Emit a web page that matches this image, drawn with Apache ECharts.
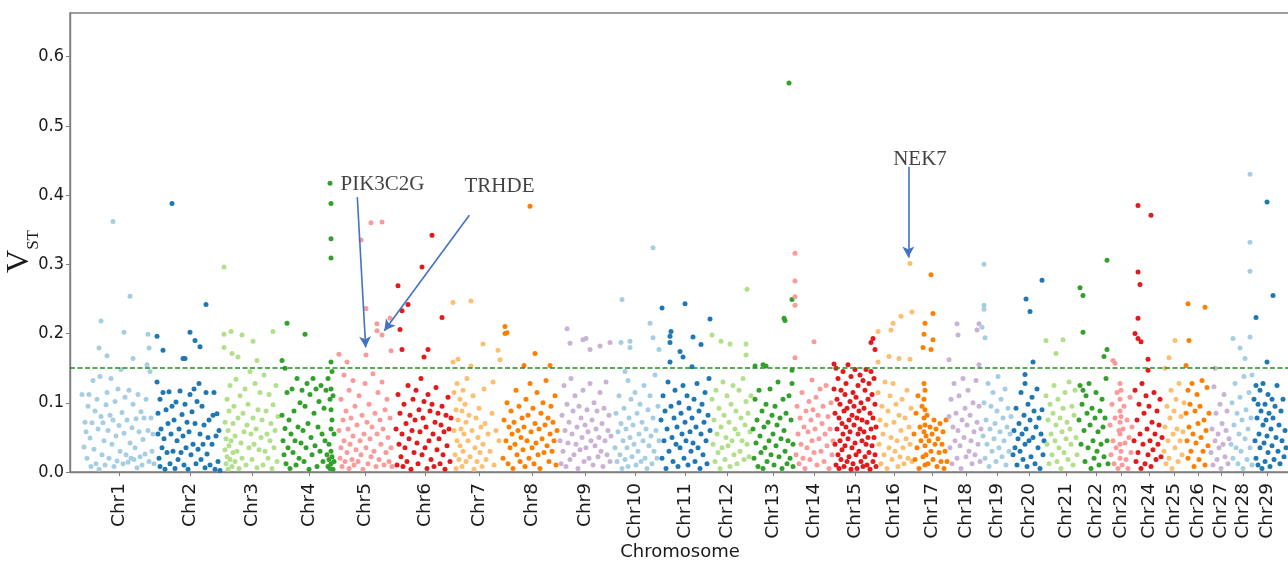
<!DOCTYPE html>
<html>
<head>
<meta charset="utf-8">
<script src="https://cdn.jsdelivr.net/npm/echarts@6/dist/echarts.min.js"></script>
<style>
html,body{margin:0;padding:0;background:#fff;}
#chart{width:1288px;height:562px;}
</style>
</head>
<body>
<div id="chart"></div>
<script>
// ---------- DATA ----------
const chrLabels = ['Chr1','Chr2','Chr3','Chr4','Chr5','Chr6','Chr7','Chr8','Chr9','Chr10','Chr11','Chr12','Chr13','Chr14','Chr15','Chr16','Chr17','Chr18','Chr19','Chr20','Chr21','Chr22','Chr23','Chr24','Chr25','Chr26','Chr27','Chr28','Chr29'];
const chrTicks = [119.5,190.5,252,309.5,365.5,425,479,532,585.5,635.5,685.5,727,773,814,855,894,932,966,997,1029,1066,1096,1121.5,1149,1174,1198,1221.5,1243,1267];
const yTicks = [0, 0.1, 0.2, 0.3, 0.4, 0.5, 0.6];
const threshold = 0.154;

const chr1 = [[82,0.112],[84,0.036],[85,0.072],[86,0.058],[87,0.02],[88,0.095],[89,0.112],[90,0.049],[91,0.008],[92,0.071],[93,0.132],[94,0.033],[95,0.088],[96,0.012],[97,0.105],[98,0.062],[99,0.179],[99,0.004],[100,0.138],[101,0.218],[101,0.08],[102,0.025],[103,0.071],[104,0.045],[105,0.01],[106,0.097],[107,0.168],[107,0.115],[108,0.06],[109,0.02],[110,0.082],[111,0.135],[112,0.04],[113,0.362],[113,0.075],[114,0.008],[115,0.102],[116,0.052],[117,0.016],[118,0.12],[119,0.067],[120,0.03],[121,0.148],[122,0.086],[123,0.012],[124,0.202],[124,0.056],[125,0.108],[126,0.025],[127,0.075],[128,0.014],[129,0.118],[130,0.254],[130,0.042],[131,0.02],[132,0.064],[133,0.164],[133,0.098],[134,0.018],[135,0.035],[136,0.077],[137,0.006],[138,0.112],[139,0.058],[140,0.022],[141,0.087],[142,0.01],[143,0.047],[144,0.078],[145,0.026],[146,0.105],[147,0.155],[148,0.199],[148,0.06],[149,0.179],[149,0.015],[150,0.145],[151,0.078],[152,0.03],[153,0.055],[154,0.012]];
const chr2 = [[157,0.196],[157,0.13],[158,0.085],[158,0.055],[159,0.02],[160,0.105],[160,0.008],[161,0.062],[162,0.035],[163,0.176],[163,0.115],[164,0.048],[165,0.004],[166,0.09],[167,0.028],[168,0.07],[169,0.116],[170,0.012],[171,0.055],[172,0.388],[172,0.095],[173,0.03],[174,0.075],[175,0.005],[176,0.101],[177,0.045],[178,0.018],[179,0.062],[180,0.117],[181,0.028],[182,0.083],[183,0.164],[183,0.052],[184,0.01],[185,0.164],[185,0.098],[186,0.035],[187,0.072],[188,0.004],[189,0.058],[190,0.202],[190,0.112],[191,0.025],[192,0.087],[193,0.04],[194,0.12],[195,0.19],[195,0.07],[196,0.012],[197,0.102],[198,0.033],[199,0.128],[200,0.181],[200,0.055],[201,0.018],[202,0.095],[203,0.04],[204,0.068],[205,0.006],[206,0.242],[206,0.115],[207,0.026],[208,0.05],[209,0.075],[210,0.01],[212,0.04],[213,0.082],[214,0.115],[215,0.004],[216,0.052],[217,0.084],[218,0.015],[219,0.06],[220,0.002]];
const chr3 = [[224,0.296],[224,0.199],[224,0.18],[225,0.072],[225,0.032],[226,0.048],[226,0.012],[227,0.105],[227,0.022],[228,0.06],[228,0.004],[229,0.038],[229,0.088],[230,0.018],[230,0.125],[231,0.203],[231,0.045],[232,0.171],[232,0.008],[233,0.07],[233,0.028],[234,0.095],[235,0.015],[235,0.052],[236,0.134],[237,0.03],[238,0.166],[238,0.078],[239,0.005],[240,0.11],[241,0.042],[242,0.198],[242,0.02],[243,0.085],[244,0.058],[245,0.12],[246,0.01],[247,0.068],[248,0.098],[249,0.035],[250,0.145],[251,0.055],[252,0.018],[253,0.189],[253,0.078],[254,0.04],[255,0.128],[256,0.062],[257,0.161],[257,0.006],[258,0.09],[259,0.032],[260,0.115],[261,0.05],[262,0.075],[263,0.01],[264,0.14],[265,0.03],[266,0.088],[267,0.055],[268,0.02],[269,0.112],[270,0.045],[271,0.07],[272,0.005],[273,0.203],[273,0.097],[274,0.035],[275,0.06],[276,0.125],[277,0.015],[278,0.08]];
const chr4 = [[282,0.161],[282,0.082],[283,0.045],[284,0.025],[285,0.15],[285,0.063],[286,0.012],[287,0.215],[287,0.115],[288,0.035],[289,0.075],[290,0.005],[291,0.055],[292,0.12],[293,0.028],[294,0.088],[295,0.045],[296,0.01],[297,0.135],[298,0.065],[299,0.02],[300,0.1],[301,0.042],[302,0.118],[303,0.06],[304,0.015],[305,0.199],[305,0.095],[306,0.035],[307,0.128],[308,0.07],[309,0.004],[310,0.112],[311,0.05],[312,0.025],[313,0.135],[314,0.085],[315,0.038],[316,0.12],[317,0.008],[318,0.065],[319,0.102],[320,0.03],[321,0.125],[322,0.055],[323,0.015],[324,0.092],[325,0.045],[326,0.118],[327,0.025],[328,0.008],[328,0.135],[329,0.04],[329,0.018],[330,0.417],[330,0.105],[330,0.005],[331,0.388],[331,0.337],[331,0.309],[331,0.159],[331,0.12],[331,0.09],[331,0.062],[331,0.03],[331,0.012],[332,0.145],[332,0.075],[332,0.022],[333,0.11],[333,0.004],[334,0.055],[334,0.015]];
const chr5 = [[339,0.17],[339,0.06],[340,0.02],[341,0.105],[341,0.035],[342,0.008],[343,0.075],[344,0.14],[344,0.045],[345,0.015],[346,0.088],[347,0.159],[347,0.028],[348,0.062],[349,0.118],[349,0.005],[350,0.04],[351,0.078],[352,0.018],[353,0.132],[353,0.052],[354,0.01],[355,0.095],[356,0.032],[357,0.068],[358,0.015],[359,0.11],[360,0.045],[361,0.335],[361,0.025],[362,0.082],[363,0.004],[364,0.055],[365,0.128],[366,0.236],[366,0.169],[366,0.035],[367,0.072],[368,0.012],[369,0.098],[370,0.048],[371,0.36],[371,0.022],[372,0.065],[373,0.142],[374,0.03],[375,0.085],[376,0.008],[377,0.214],[377,0.204],[377,0.055],[378,0.115],[379,0.018],[380,0.075],[381,0.04],[382,0.361],[382,0.198],[382,0.13],[383,0.062],[384,0.01],[385,0.09],[386,0.028],[387,0.105],[388,0.05],[389,0.015],[390,0.222],[390,0.078],[391,0.175],[391,0.035],[392,0.008]];
const chr6 = [[396,0.062],[397,0.01],[398,0.269],[398,0.112],[399,0.04],[400,0.206],[400,0.085],[401,0.022],[402,0.233],[402,0.177],[402,0.055],[403,0.008],[404,0.098],[405,0.035],[406,0.07],[407,0.015],[408,0.242],[408,0.125],[409,0.048],[410,0.082],[411,0.004],[412,0.06],[413,0.105],[414,0.028],[415,0.075],[416,0.118],[417,0.042],[418,0.012],[419,0.09],[420,0.058],[421,0.135],[422,0.296],[422,0.025],[423,0.078],[424,0.166],[424,0.102],[425,0.035],[426,0.065],[427,0.005],[428,0.177],[428,0.112],[429,0.045],[430,0.088],[431,0.018],[432,0.342],[432,0.098],[433,0.055],[434,0.008],[435,0.072],[436,0.122],[437,0.032],[438,0.085],[439,0.048],[440,0.012],[441,0.068],[442,0.223],[442,0.095],[443,0.025],[444,0.058],[445,0.004],[446,0.082],[447,0.038],[448,0.108],[449,0.062],[450,0.015],[451,0.078]];
const chr7 = [[453,0.245],[453,0.159],[454,0.115],[454,0.06],[455,0.025],[456,0.09],[456,0.005],[457,0.128],[457,0.045],[458,0.163],[458,0.075],[459,0.018],[460,0.105],[460,0.038],[461,0.062],[462,0.088],[462,0.008],[463,0.118],[463,0.03],[464,0.055],[465,0.098],[466,0.015],[466,0.072],[467,0.135],[468,0.045],[469,0.082],[470,0.022],[471,0.247],[471,0.153],[472,0.06],[473,0.11],[474,0.004],[475,0.035],[476,0.078],[477,0.015],[478,0.05],[479,0.092],[480,0.028],[481,0.065],[482,0.008],[483,0.185],[483,0.04],[484,0.12],[485,0.07],[486,0.018],[488,0.055],[490,0.03],[492,0.085],[493,0.13],[494,0.01],[496,0.06],[498,0.176],[499,0.045],[500,0.162]];
const chr8 = [[503,0.02],[504,0.075],[505,0.21],[505,0.2],[506,0.045],[507,0.201],[507,0.1],[508,0.012],[509,0.065],[510,0.035],[511,0.088],[512,0.055],[513,0.005],[514,0.072],[515,0.04],[516,0.118],[517,0.025],[518,0.06],[519,0.095],[520,0.015],[521,0.05],[522,0.078],[523,0.032],[524,0.154],[524,0.065],[525,0.008],[526,0.105],[527,0.045],[528,0.082],[529,0.02],[530,0.384],[530,0.128],[531,0.058],[532,0.035],[533,0.092],[534,0.012],[535,0.171],[535,0.07],[536,0.042],[537,0.115],[538,0.025],[539,0.062],[540,0.005],[541,0.085],[542,0.048],[543,0.1],[544,0.028],[545,0.068],[546,0.132],[547,0.038],[548,0.078],[549,0.015],[550,0.154],[550,0.055],[551,0.095],[552,0.03],[553,0.072],[554,0.045],[555,0.11],[556,0.01],[557,0.06]];
const chr9 = [[560,0.045],[561,0.012],[562,0.082],[563,0.03],[564,0.125],[565,0.06],[566,0.008],[567,0.207],[567,0.098],[568,0.042],[569,0.072],[570,0.186],[570,0.018],[571,0.135],[572,0.055],[573,0.088],[574,0.025],[575,0.11],[576,0.04],[577,0.065],[578,0.005],[579,0.095],[580,0.032],[581,0.078],[582,0.05],[583,0.191],[583,0.118],[584,0.015],[585,0.068],[586,0.193],[586,0.035],[587,0.09],[588,0.058],[589,0.02],[590,0.177],[590,0.128],[591,0.045],[592,0.075],[593,0.01],[594,0.1],[595,0.038],[596,0.062],[597,0.088],[598,0.022],[599,0.05],[600,0.182],[600,0.115],[601,0.03],[602,0.07],[603,0.008],[604,0.092],[605,0.045],[606,0.13],[607,0.025],[608,0.06],[609,0.082],[610,0.187],[610,0.015],[611,0.052]];
const chr10 = [[615,0.035],[616,0.085],[617,0.015],[618,0.058],[619,0.11],[620,0.025],[621,0.187],[621,0.07],[622,0.249],[622,0.005],[623,0.045],[624,0.092],[625,0.145],[625,0.018],[626,0.062],[627,0.035],[628,0.132],[628,0.008],[629,0.078],[630,0.189],[630,0.18],[630,0.05],[631,0.105],[632,0.022],[633,0.068],[634,0.04],[635,0.115],[636,0.01],[637,0.085],[638,0.03],[639,0.055],[640,0.098],[641,0.015],[642,0.072],[643,0.045],[644,0.125],[645,0.02],[646,0.062],[647,0.005],[648,0.09],[649,0.038],[650,0.215],[650,0.11],[651,0.052],[652,0.012],[653,0.324],[653,0.194],[653,0.078],[654,0.03],[655,0.14],[656,0.06],[657,0.02],[658,0.095],[659,0.177],[659,0.045]];
const chr11 = [[661,0.075],[662,0.237],[662,0.02],[663,0.11],[664,0.045],[665,0.088],[666,0.005],[667,0.062],[668,0.13],[669,0.03],[670,0.196],[670,0.187],[670,0.159],[671,0.203],[671,0.095],[672,0.05],[673,0.015],[674,0.078],[675,0.118],[676,0.04],[677,0.065],[678,0.008],[679,0.1],[680,0.174],[680,0.035],[681,0.085],[682,0.055],[683,0.166],[683,0.125],[684,0.02],[685,0.243],[685,0.072],[686,0.045],[687,0.11],[688,0.01],[689,0.092],[690,0.058],[691,0.03],[692,0.152],[692,0.078],[693,0.195],[693,0.042],[694,0.105],[695,0.015],[696,0.065],[697,0.128],[698,0.035],[699,0.088],[700,0.005],[701,0.184],[701,0.055],[702,0.098],[703,0.025],[704,0.072],[705,0.115],[706,0.045],[707,0.012],[708,0.082],[709,0.135],[710,0.221],[710,0.06]];
const chr12 = [[712,0.198],[712,0.105],[713,0.04],[714,0.075],[715,0.015],[716,0.118],[717,0.055],[718,0.028],[719,0.092],[720,0.005],[721,0.189],[721,0.065],[722,0.035],[723,0.13],[724,0.082],[725,0.018],[726,0.05],[727,0.11],[728,0.038],[729,0.072],[730,0.185],[730,0.008],[731,0.098],[732,0.045],[733,0.125],[734,0.025],[735,0.062],[736,0.088],[737,0.012],[738,0.055],[739,0.118],[740,0.03],[741,0.078],[742,0.045],[743,0.135],[744,0.018],[745,0.068],[746,0.185],[746,0.169],[746,0.102],[747,0.264],[747,0.04],[748,0.085],[749,0.022],[750,0.058],[751,0.11]];
const chr13 = [[753,0.062],[754,0.02],[755,0.153],[755,0.105],[756,0.042],[757,0.075],[758,0.008],[759,0.118],[760,0.052],[761,0.028],[762,0.088],[763,0.155],[763,0.005],[764,0.065],[765,0.035],[766,0.153],[766,0.098],[767,0.015],[768,0.072],[769,0.045],[770,0.12],[771,0.025],[772,0.082],[773,0.055],[774,0.01],[775,0.095],[776,0.038],[777,0.068],[778,0.13],[779,0.022],[780,0.078],[781,0.048],[782,0.005],[783,0.105],[784,0.222],[784,0.06],[785,0.219],[785,0.03],[786,0.085],[787,0.012],[788,0.045],[789,0.562],[789,0.11],[790,0.02],[791,0.075],[792,0.249],[792,0.147],[792,0.128],[793,0.04],[793,0.008]];
const chr14 = [[795,0.316],[795,0.276],[795,0.253],[795,0.241],[795,0.165],[796,0.025],[797,0.095],[798,0.055],[799,0.012],[800,0.078],[801,0.04],[802,0.115],[803,0.02],[804,0.065],[805,0.005],[806,0.088],[807,0.035],[808,0.058],[809,0.102],[810,0.018],[811,0.075],[812,0.133],[812,0.045],[813,0.09],[814,0.188],[814,0.028],[815,0.062],[816,0.108],[817,0.01],[818,0.082],[819,0.048],[820,0.12],[821,0.03],[822,0.07],[823,0.095],[824,0.015],[825,0.055],[826,0.125],[827,0.038],[828,0.08],[829,0.005],[830,0.062],[831,0.1],[832,0.025],[833,0.045]];
const chr15 = [[834,0.156],[834,0.12],[835,0.085],[835,0.04],[836,0.15],[836,0.01],[837,0.105],[837,0.062],[838,0.025],[838,0.135],[839,0.078],[839,0.005],[840,0.098],[840,0.045],[841,0.118],[841,0.018],[842,0.07],[842,0.032],[843,0.145],[843,0.055],[844,0.088],[844,0.008],[845,0.112],[845,0.038],[846,0.065],[846,0.128],[847,0.015],[847,0.092],[848,0.048],[848,0.155],[849,0.075],[849,0.022],[850,0.102],[850,0.058],[851,0.004],[851,0.138],[852,0.082],[852,0.035],[853,0.115],[853,0.012],[854,0.068],[854,0.095],[855,0.042],[855,0.148],[856,0.025],[856,0.108],[857,0.078],[857,0.005],[858,0.055],[858,0.125],[859,0.088],[859,0.03],[860,0.14],[860,0.062],[861,0.015],[861,0.1],[862,0.045],[862,0.075],[863,0.132],[863,0.008],[864,0.058],[864,0.092],[865,0.022],[865,0.118],[866,0.148],[866,0.04],[867,0.072],[867,0.01],[868,0.105],[868,0.05],[869,0.128],[869,0.028],[870,0.085],[870,0.004],[871,0.187],[871,0.145],[871,0.062],[872,0.038],[872,0.112],[873,0.193],[873,0.078],[873,0.015],[874,0.135],[874,0.05],[875,0.177],[875,0.098],[875,0.025],[876,0.065],[876,0.008]];
const chr16 = [[878,0.203],[878,0.159],[878,0.115],[879,0.04],[880,0.075],[881,0.012],[882,0.095],[883,0.055],[884,0.025],[885,0.13],[886,0.068],[887,0.005],[888,0.088],[889,0.167],[889,0.035],[890,0.11],[891,0.205],[891,0.05],[892,0.018],[893,0.215],[893,0.128],[894,0.072],[895,0.03],[896,0.098],[897,0.045],[898,0.008],[899,0.164],[899,0.082],[900,0.022],[901,0.225],[901,0.06],[902,0.105],[903,0.035],[904,0.012],[905,0.078],[906,0.048],[907,0.118],[908,0.02],[909,0.065],[910,0.301],[910,0.163],[910,0.04],[911,0.092],[912,0.231],[912,0.015]];
const chr17 = [[914,0.055],[915,0.018],[916,0.085],[917,0.035],[918,0.11],[919,0.005],[920,0.065],[921,0.045],[922,0.095],[923,0.18],[923,0.022],[924,0.199],[924,0.128],[924,0.105],[924,0.078],[924,0.058],[925,0.215],[925,0.118],[925,0.09],[925,0.068],[925,0.038],[925,0.01],[926,0.052],[926,0.025],[927,0.082],[928,0.012],[929,0.045],[930,0.065],[931,0.285],[931,0.177],[931,0.03],[932,0.055],[933,0.229],[933,0.191],[933,0.018],[934,0.075],[935,0.04],[936,0.062],[937,0.008],[938,0.048],[939,0.028],[940,0.07],[941,0.015],[942,0.04],[943,0.058],[944,0.005],[945,0.03],[946,0.075],[947,0.015]];
const chr18 = [[949,0.162],[949,0.08],[950,0.035],[951,0.105],[952,0.012],[953,0.065],[954,0.128],[955,0.045],[956,0.085],[957,0.214],[957,0.02],[958,0.198],[958,0.06],[959,0.11],[960,0.038],[961,0.005],[962,0.075],[963,0.135],[964,0.05],[965,0.092],[966,0.022],[967,0.068],[968,0.118],[969,0.03],[970,0.082],[971,0.045],[972,0.012],[973,0.1],[974,0.058],[975,0.025],[976,0.132],[977,0.205],[977,0.072],[978,0.04],[979,0.214],[979,0.155],[979,0.095],[980,0.015],[981,0.062]];
const chr19 = [[982,0.209],[983,0.052],[984,0.3],[984,0.241],[984,0.235],[984,0.1],[985,0.194],[985,0.02],[986,0.075],[987,0.04],[988,0.128],[989,0.008],[990,0.062],[991,0.095],[992,0.03],[993,0.115],[994,0.048],[995,0.07],[996,0.015],[997,0.088],[998,0.138],[999,0.035],[1000,0.058],[1001,0.105],[1002,0.022],[1003,0.078],[1004,0.045],[1005,0.12],[1006,0.01],[1007,0.065],[1008,0.092],[1009,0.03],[1010,0.055],[1011,0.08]];
const chr20 = [[1013,0.025],[1014,0.06],[1015,0.035],[1016,0.092],[1017,0.01],[1018,0.048],[1019,0.07],[1020,0.03],[1021,0.115],[1022,0.055],[1023,0.018],[1024,0.082],[1025,0.141],[1025,0.128],[1025,0.04],[1026,0.25],[1026,0.062],[1027,0.008],[1028,0.098],[1029,0.045],[1030,0.232],[1030,0.075],[1031,0.022],[1032,0.108],[1033,0.159],[1033,0.05],[1034,0.088],[1035,0.012],[1036,0.065],[1037,0.12],[1038,0.035],[1039,0.078],[1040,0.005],[1041,0.055],[1042,0.277],[1042,0.09],[1043,0.025],[1044,0.045]];
const chr21 = [[1046,0.19],[1046,0.11],[1047,0.04],[1048,0.075],[1049,0.012],[1050,0.098],[1051,0.055],[1052,0.025],[1053,0.085],[1054,0.125],[1055,0.045],[1056,0.171],[1056,0.068],[1057,0.015],[1058,0.105],[1059,0.035],[1060,0.078],[1061,0.005],[1062,0.058],[1063,0.191],[1063,0.092],[1064,0.028],[1065,0.115],[1066,0.048],[1067,0.072],[1068,0.018],[1069,0.13],[1070,0.062],[1071,0.04],[1072,0.095],[1073,0.01],[1074,0.082],[1075,0.118],[1076,0.05],[1077,0.025]];
const chr22 = [[1079,0.075],[1080,0.266],[1080,0.125],[1081,0.04],[1082,0.098],[1083,0.255],[1083,0.202],[1083,0.118],[1084,0.06],[1085,0.015],[1086,0.11],[1087,0.085],[1088,0.035],[1089,0.128],[1090,0.068],[1091,0.005],[1092,0.092],[1093,0.045],[1094,0.02],[1095,0.078],[1096,0.115],[1097,0.03],[1098,0.058],[1099,0.01],[1100,0.088],[1101,0.04],[1102,0.105],[1103,0.065],[1104,0.167],[1104,0.022],[1105,0.078],[1106,0.135],[1107,0.306],[1107,0.177],[1107,0.045],[1108,0.012]];
const chr23 = [[1110,0.068],[1111,0.025],[1112,0.098],[1113,0.161],[1113,0.045],[1114,0.012],[1115,0.157],[1115,0.078],[1116,0.035],[1117,0.115],[1118,0.005],[1119,0.06],[1120,0.128],[1120,0.105],[1120,0.088],[1120,0.072],[1120,0.055],[1120,0.04],[1120,0.02],[1121,0.118],[1121,0.08],[1121,0.03],[1122,0.01],[1123,0.062],[1124,0.095],[1125,0.042],[1126,0.018],[1127,0.075],[1128,0.005],[1129,0.05],[1130,0.108],[1131,0.028],[1132,0.065]];
const chr24 = [[1134,0.045],[1135,0.2],[1135,0.118],[1136,0.015],[1137,0.075],[1138,0.385],[1138,0.289],[1138,0.222],[1138,0.193],[1138,0.028],[1139,0.098],[1140,0.271],[1140,0.055],[1141,0.188],[1141,0.005],[1142,0.128],[1143,0.04],[1144,0.085],[1145,0.012],[1146,0.11],[1147,0.062],[1148,0.163],[1148,0.147],[1148,0.025],[1149,0.095],[1150,0.045],[1151,0.371],[1151,0.008],[1152,0.072],[1153,0.032],[1154,0.115],[1155,0.055],[1156,0.018],[1157,0.088],[1158,0.04],[1159,0.068],[1160,0.105],[1161,0.022],[1162,0.05]];
const chr25 = [[1164,0.03],[1165,0.15],[1165,0.065],[1166,0.012],[1167,0.095],[1168,0.045],[1169,0.165],[1169,0.02],[1170,0.078],[1171,0.118],[1172,0.005],[1173,0.055],[1174,0.088],[1175,0.19],[1175,0.035],[1176,0.105],[1177,0.062],[1178,0.015],[1179,0.128],[1180,0.045],[1181,0.08],[1182,0.025],[1183,0.058],[1184,0.1]];
const chr26 = [[1186,0.154],[1186,0.085],[1187,0.045],[1188,0.243],[1188,0.118],[1188,0.02],[1189,0.19],[1189,0.065],[1190,0.098],[1191,0.03],[1192,0.128],[1193,0.055],[1194,0.008],[1195,0.088],[1196,0.042],[1197,0.112],[1198,0.07],[1199,0.018],[1200,0.095],[1201,0.05],[1202,0.132],[1203,0.03],[1204,0.075],[1205,0.238],[1205,0.01],[1206,0.06],[1207,0.122],[1208,0.038],[1209,0.085]];
const chr27 = [[1211,0.028],[1212,0.062],[1213,0.01],[1214,0.123],[1215,0.15],[1215,0.045],[1216,0.085],[1217,0.018],[1218,0.055],[1219,0.035],[1220,0.098],[1221,0.005],[1222,0.07],[1223,0.04],[1224,0.112],[1225,0.022],[1226,0.06],[1227,0.088],[1228,0.012],[1229,0.048]];
const chr28 = [[1231,0.04],[1232,0.1],[1233,0.193],[1233,0.02],[1234,0.068],[1235,0.128],[1236,0.035],[1237,0.085],[1238,0.012],[1239,0.055],[1240,0.179],[1240,0.108],[1241,0.03],[1242,0.075],[1243,0.005],[1244,0.138],[1245,0.164],[1245,0.048],[1246,0.09],[1247,0.018],[1248,0.062],[1249,0.115],[1250,0.43],[1250,0.332],[1250,0.29],[1250,0.195],[1250,0.035],[1251,0.078],[1252,0.14],[1252,0.01]];
const chr29 = [[1254,0.105],[1255,0.045],[1256,0.223],[1256,0.125],[1256,0.02],[1257,0.078],[1258,0.098],[1258,0.01],[1259,0.055],[1260,0.118],[1260,0.035],[1261,0.088],[1262,0.005],[1263,0.068],[1263,0.128],[1264,0.042],[1265,0.098],[1265,0.015],[1266,0.075],[1267,0.39],[1267,0.159],[1267,0.052],[1268,0.112],[1268,0.028],[1269,0.085],[1270,0.008],[1271,0.062],[1272,0.105],[1272,0.038],[1273,0.255],[1273,0.078],[1274,0.018],[1275,0.095],[1276,0.05],[1277,0.125],[1278,0.03],[1279,0.068],[1280,0.012],[1281,0.088],[1282,0.045],[1283,0.105],[1284,0.022],[1285,0.06],[1286,0.035]];

const chrData = [chr1,chr2,chr3,chr4,chr5,chr6,chr7,chr8,chr9,chr10,chr11,chr12,chr13,chr14,chr15,chr16,chr17,chr18,chr19,chr20,chr21,chr22,chr23,chr24,chr25,chr26,chr27,chr28,chr29];
const geneNames = ['PIK3C2G','TRHDE','NEK7'];

// ---------- STYLE ----------
const palette = ['#a6cee3','#1f78b4','#b2df8a','#33a02c','#fb9a99','#e31a1c','#fdbf6f','#ff7f00','#cab2d6'];
const frameColor = '#7f7f7f';
const arrowColor = '#4472c4';

const series = chrData.map((d, i) => ({
  type: 'scatter',
  name: chrLabels[i],
  data: d,
  symbol: 'circle',
  symbolSize: 5,
  itemStyle: { color: palette[i % palette.length], opacity: 1 },
  emphasis: { disabled: true },
  silent: true
}));

// threshold line + annotation arrows
series.push({
  type: 'scatter',
  data: [],
  silent: true,
  markLine: {
    silent: true,
    symbol: ['none', 'none'],
    label: { show: false },
    lineStyle: { color: '#1f8f1f', type: [5, 2.5], width: 1.6 },
    data: [{ yAxis: threshold }]
  }
});
series.push({
  type: 'scatter',
  data: [],
  silent: true,
  markLine: {
    silent: true,
    symbol: ['none', 'arrow'],
    symbolSize: [9, 11],
    label: { show: false },
    lineStyle: { color: arrowColor, type: 'solid', width: 1.6 },
    data: [
      [{ coord: [357.3, 0.397] }, { coord: [365.7, 0.180] }],
      [{ coord: [469.3, 0.371] }, { coord: [384.3, 0.204] }],
      [{ coord: [908.3, 0.441] }, { coord: [908.3, 0.310] }]
    ]
  }
});
series.push({
  type: 'scatter',
  silent: true,
  symbolSize: 0,
  data: [
    { name: geneNames[0], value: [382.5, 0.416] },
    { name: geneNames[1], value: [499.5, 0.412] },
    { name: geneNames[2], value: [920, 0.452] }
  ],
  label: {
    show: true, position: 'inside', formatter: p => p.name,
    fontFamily: "'Liberation Serif', 'Times New Roman', serif",
    fontSize: 21, color: '#111'
  }
});

const chart = echarts.init(document.getElementById('chart'), null, { renderer: 'canvas' });
chart.setOption({
  animation: false,
  backgroundColor: '#ffffff',
  grid: {
    left: 70, right: -2, top: 13, bottom: 90,
    containLabel: false, outerBoundsMode: 'none',
    show: true, borderColor: frameColor, borderWidth: 1.4, backgroundColor: 'transparent'
  },
  xAxis: {
    type: 'value', min: 70, max: 1290,
    splitLine: { show: false },
    axisLine: { show: true, lineStyle: { color: frameColor, width: 1.4 } },
    axisTick: { show: true, customValues: chrTicks, length: 4, lineStyle: { color: frameColor } },
    axisLabel: {
      customValues: chrTicks, rotate: 90, margin: 11,
      fontFamily: "'DejaVu Sans', sans-serif", fontSize: 18.5, color: '#1a1a1a',
      formatter: v => {
        let best = 0;
        chrTicks.forEach((t, i) => { if (Math.abs(t - v) < Math.abs(chrTicks[best] - v)) best = i; });
        return chrLabels[best];
      }
    },
    name: 'Chromosome', nameLocation: 'middle', nameGap: 71, nameMoveOverlap: false,
    nameTextStyle: { fontFamily: "'DejaVu Sans', sans-serif", fontSize: 18, color: '#1a1a1a' }
  },
  yAxis: {
    type: 'value', min: 0, max: 0.663,
    splitLine: { show: false },
    axisLine: { show: true, lineStyle: { color: frameColor, width: 1.4 } },
    axisTick: { show: true, customValues: yTicks, length: 4, lineStyle: { color: frameColor } },
    axisLabel: {
      customValues: yTicks, margin: 6,
      fontFamily: "'DejaVu Sans Condensed', 'DejaVu Sans', sans-serif", fontSize: 18, color: '#1a1a1a',
      formatter: v => v.toFixed(1)
    },
    name: '{v|V}{s|ST}', nameLocation: 'middle', nameGap: 28, nameRotate: 90, nameMoveOverlap: false,
    nameTextStyle: {
      rich: {
        v: { fontFamily: "'Liberation Serif', serif", fontSize: 32, color: '#1a1a1a', verticalAlign: 'bottom', padding: [0, 0, 6, 0] },
        s: { fontFamily: "'Liberation Serif', serif", fontSize: 17, color: '#1a1a1a', verticalAlign: 'bottom', padding: [0, 18, 0, 0] }
      }
    }
  },
  series: series
});
</script>
</body>
</html>
